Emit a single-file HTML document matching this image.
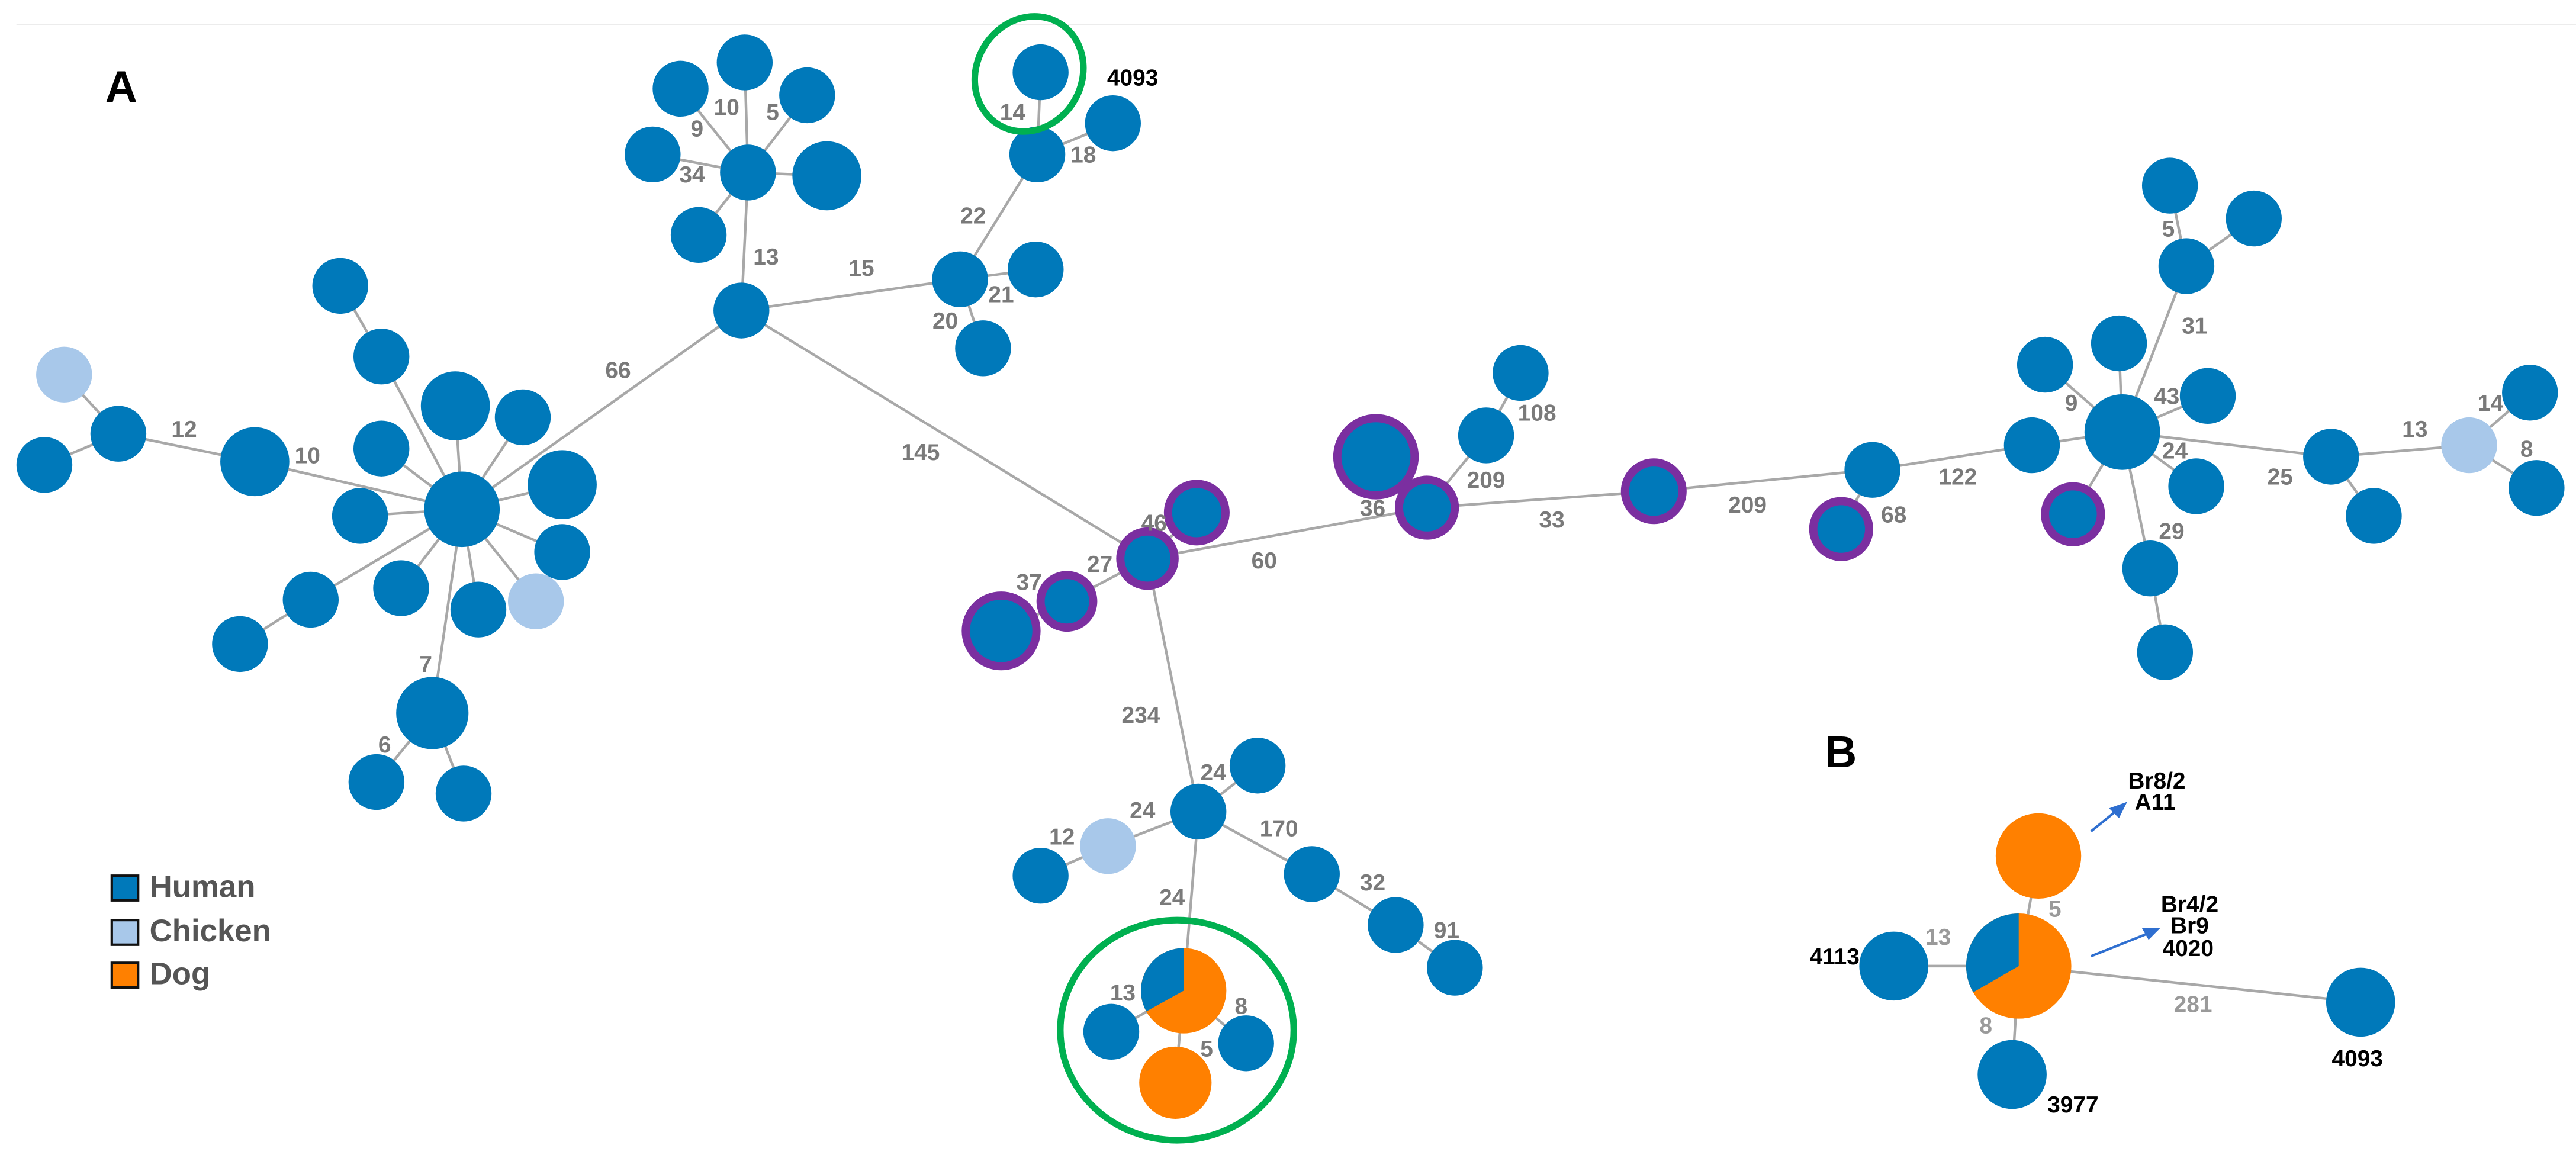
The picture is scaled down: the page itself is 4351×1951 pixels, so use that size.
<!DOCTYPE html>
<html><head><meta charset="utf-8"><style>
html,body{margin:0;padding:0;background:#fff;}
svg{display:block;}
text{font-family:"Liberation Sans",sans-serif;font-weight:bold;}
.l{fill:#7a7a7a;font-size:14px;}
.k{fill:#000;font-size:14px;}
</style></head><body>
<svg width="4351" height="1951" viewBox="0 0 1567 703" preserveAspectRatio="none" xmlns="http://www.w3.org/2000/svg">
<line x1="10" y1="15" x2="1567" y2="15" stroke="#ececec" stroke-width="1"/>
<g stroke="#a8a8a8" stroke-width="1.6" fill="none">
<line x1="455" y1="105" x2="453" y2="38"/><line x1="455" y1="105" x2="414" y2="54"/><line x1="455" y1="105" x2="491" y2="58"/><line x1="455" y1="105" x2="397" y2="94"/><line x1="455" y1="105" x2="503" y2="107"/><line x1="455" y1="105" x2="425" y2="143"/><line x1="455" y1="105" x2="451" y2="189"/>
<line x1="281" y1="310" x2="451" y2="189"/><line x1="281" y1="310" x2="232" y2="217"/><line x1="232" y1="217" x2="207" y2="174"/><line x1="281" y1="310" x2="277" y2="247"/><line x1="281" y1="310" x2="318" y2="254"/><line x1="281" y1="310" x2="232" y2="273"/><line x1="281" y1="310" x2="342" y2="295"/><line x1="281" y1="310" x2="219" y2="314"/><line x1="281" y1="310" x2="342" y2="336"/><line x1="281" y1="310" x2="155" y2="281"/><line x1="155" y1="281" x2="72" y2="264"/><line x1="72" y1="264" x2="39" y2="228"/><line x1="72" y1="264" x2="27" y2="283"/><line x1="281" y1="310" x2="189" y2="365"/><line x1="189" y1="365" x2="146" y2="392"/><line x1="281" y1="310" x2="244" y2="358"/><line x1="281" y1="310" x2="291" y2="371"/><line x1="281" y1="310" x2="326" y2="366"/><line x1="281" y1="310" x2="263" y2="434"/><line x1="263" y1="434" x2="229" y2="476"/><line x1="263" y1="434" x2="282" y2="483"/>
<line x1="451" y1="189" x2="584" y2="170"/><line x1="584" y1="170" x2="631" y2="94"/><line x1="631" y1="94" x2="633" y2="44"/><line x1="631" y1="94" x2="677" y2="75"/><line x1="584" y1="170" x2="630" y2="164"/><line x1="584" y1="170" x2="598" y2="212"/>
<line x1="451" y1="189" x2="698" y2="340"/><line x1="698" y1="340" x2="728" y2="312"/><line x1="698" y1="340" x2="649" y2="366"/><line x1="649" y1="366" x2="609" y2="384"/><line x1="698" y1="340" x2="868" y2="309"/><line x1="868" y1="309" x2="837" y2="278"/><line x1="868" y1="309" x2="904" y2="265"/><line x1="904" y1="265" x2="925" y2="227"/><line x1="868" y1="309" x2="1006" y2="299"/><line x1="1006" y1="299" x2="1139" y2="286"/><line x1="1139" y1="286" x2="1120" y2="322"/><line x1="1139" y1="286" x2="1236" y2="271"/><line x1="1236" y1="271" x2="1291" y2="263"/>
<line x1="1291" y1="263" x2="1289" y2="209"/><line x1="1291" y1="263" x2="1244" y2="222"/><line x1="1291" y1="263" x2="1343" y2="241"/><line x1="1291" y1="263" x2="1336" y2="296"/><line x1="1291" y1="263" x2="1261" y2="313"/><line x1="1291" y1="263" x2="1308" y2="346"/><line x1="1291" y1="263" x2="1418" y2="278"/><line x1="1291" y1="263" x2="1330" y2="162"/><line x1="1330" y1="162" x2="1320" y2="113"/><line x1="1330" y1="162" x2="1371" y2="133"/><line x1="1308" y1="346" x2="1317" y2="397"/><line x1="1418" y1="278" x2="1444" y2="314"/><line x1="1418" y1="278" x2="1502" y2="271"/><line x1="1502" y1="271" x2="1539" y2="239"/><line x1="1502" y1="271" x2="1543" y2="297"/>
<line x1="698" y1="340" x2="729" y2="494"/><line x1="729" y1="494" x2="765" y2="466"/><line x1="729" y1="494" x2="674" y2="515"/><line x1="674" y1="515" x2="633" y2="533"/><line x1="729" y1="494" x2="798" y2="532"/><line x1="798" y1="532" x2="849" y2="563"/><line x1="849" y1="563" x2="885" y2="589"/><line x1="729" y1="494" x2="720" y2="603"/><line x1="720" y1="603" x2="676" y2="628"/><line x1="720" y1="603" x2="758" y2="635"/><line x1="720" y1="603" x2="715" y2="659"/>
<line x1="1228" y1="588" x2="1240" y2="521"/><line x1="1228" y1="588" x2="1152" y2="588"/><line x1="1228" y1="588" x2="1436" y2="610"/><line x1="1228" y1="588" x2="1224" y2="654"/>
</g>
<g fill="#0079BA">
<circle cx="453" cy="38" r="17"/><circle cx="414" cy="54" r="17"/><circle cx="491" cy="58" r="17"/><circle cx="397" cy="94" r="17"/><circle cx="455" cy="105" r="17"/><circle cx="503" cy="107" r="21"/><circle cx="425" cy="143" r="17"/><circle cx="451" cy="189" r="17"/>
<circle cx="72" cy="264" r="17"/><circle cx="27" cy="283" r="17"/><circle cx="155" cy="281" r="21"/><circle cx="207" cy="174" r="17"/><circle cx="232" cy="217" r="17"/><circle cx="277" cy="247" r="21"/><circle cx="318" cy="254" r="17"/><circle cx="232" cy="273" r="17"/><circle cx="281" cy="310" r="23"/><circle cx="342" cy="295" r="21"/><circle cx="219" cy="314" r="17"/><circle cx="342" cy="336" r="17"/><circle cx="189" cy="365" r="17"/><circle cx="244" cy="358" r="17"/><circle cx="291" cy="371" r="17"/><circle cx="146" cy="392" r="17"/><circle cx="263" cy="434" r="22"/><circle cx="229" cy="476" r="17"/><circle cx="282" cy="483" r="17"/>
<circle cx="633" cy="44" r="17"/><circle cx="631" cy="94" r="17"/><circle cx="677" cy="75" r="17"/><circle cx="584" cy="170" r="17"/><circle cx="630" cy="164" r="17"/><circle cx="598" cy="212" r="17"/>
<circle cx="925" cy="227" r="17"/><circle cx="904" cy="265" r="17"/><circle cx="1139" cy="286" r="17"/><circle cx="1236" cy="271" r="17"/><circle cx="1291" cy="263" r="23"/><circle cx="1289" cy="209" r="17"/><circle cx="1244" cy="222" r="17"/><circle cx="1343" cy="241" r="17"/><circle cx="1336" cy="296" r="17"/><circle cx="1308" cy="346" r="17"/><circle cx="1317" cy="397" r="17"/><circle cx="1330" cy="162" r="17"/><circle cx="1320" cy="113" r="17"/><circle cx="1371" cy="133" r="17"/><circle cx="1418" cy="278" r="17"/><circle cx="1444" cy="314" r="17"/><circle cx="1539" cy="239" r="17"/><circle cx="1543" cy="297" r="17"/>
<circle cx="729" cy="494" r="17"/><circle cx="765" cy="466" r="17"/><circle cx="633" cy="533" r="17"/><circle cx="798" cy="532" r="17"/><circle cx="849" cy="563" r="17"/><circle cx="885" cy="589" r="17"/><circle cx="676" cy="628" r="17"/><circle cx="758" cy="635" r="17"/>
<circle cx="1152" cy="588" r="21"/><circle cx="1436" cy="610" r="21"/><circle cx="1224" cy="654" r="21"/>
</g>
<g fill="#A8C8EA"><circle cx="39" cy="228" r="17"/><circle cx="326" cy="366" r="17"/><circle cx="1502" cy="271" r="17"/><circle cx="674" cy="515" r="17"/></g>
<g fill="#0079BA" stroke="#7B2FA0" stroke-width="5">
<circle cx="837" cy="278" r="23.5"/><circle cx="868" cy="309" r="17"/><circle cx="1006" cy="299" r="17.5"/><circle cx="728" cy="312" r="17.5"/><circle cx="698" cy="340" r="16.5"/><circle cx="649" cy="366" r="16"/><circle cx="609" cy="384" r="21.5"/><circle cx="1120" cy="322" r="17"/><circle cx="1261" cy="313" r="17"/>
</g>
<!-- pies -->
<circle cx="720" cy="603" r="26" fill="#FF8000"/>
<path d="M720 603 L720 577 A26 26 0 0 0 697.3 615.6 Z" fill="#0079BA"/>
<circle cx="715" cy="659" r="22" fill="#FF8000"/>
<circle cx="1240" cy="521" r="26" fill="#FF8000"/>
<circle cx="1228" cy="588" r="32" fill="#FF8000"/>
<path d="M1228 588 L1228 556 A32 32 0 0 0 1200.3 604 Z" fill="#0079BA"/>
<!-- green ellipses -->
<ellipse cx="626" cy="45" rx="32" ry="36" transform="rotate(30 626 45)" fill="none" stroke="#00B050" stroke-width="4"/>
<ellipse cx="716" cy="627" rx="71" ry="67" fill="none" stroke="#00B050" stroke-width="4"/>
<!-- arrows -->
<g stroke="#2F6FD0" stroke-width="1.5"><line x1="1272" y1="506" x2="1288" y2="493"/><line x1="1272" y1="582" x2="1307" y2="568"/></g>
<polygon points="1294,488 1283,492 1289,498" fill="#2F6FD0"/>
<polygon points="1314,565 1303,565 1307,572" fill="#2F6FD0"/>
<!-- labels -->
<text x="64" y="62" font-size="27" fill="#000">A</text>
<text x="1110" y="467" font-size="27" fill="#000">B</text>
<g class="l" text-anchor="middle">
<text x="442" y="70">10</text><text x="424" y="83">9</text><text x="470" y="73">5</text><text x="421" y="111">34</text><text x="466" y="161">13</text>
<text x="112" y="266">12</text><text x="187" y="282">10</text><text x="376" y="230">66</text><text x="259" y="409">7</text><text x="234" y="458">6</text>
<text x="524" y="168">15</text><text x="616" y="73">14</text><text x="659" y="99">18</text><text x="592" y="136">22</text><text x="609" y="184">21</text><text x="575" y="200">20</text><text x="560" y="280">145</text>
<text x="935" y="256">108</text><text x="904" y="297">209</text><text x="835" y="314">36</text><text x="944" y="321">33</text><text x="702" y="323">46</text><text x="669" y="348">27</text><text x="626" y="359">37</text><text x="769" y="346">60</text>
<text x="1063" y="312">209</text><text x="1152" y="318">68</text><text x="1191" y="295">122</text><text x="1319" y="144">5</text><text x="1335" y="203">31</text><text x="1260" y="250">9</text><text x="1318" y="246">43</text><text x="1323" y="279">24</text><text x="1321" y="328">29</text><text x="1387" y="295">25</text><text x="1469" y="266">13</text><text x="1515" y="250">14</text><text x="1537" y="278">8</text>
<text x="694" y="440">234</text><text x="738" y="475">24</text><text x="695" y="498">24</text><text x="646" y="514">12</text><text x="778" y="509">170</text><text x="835" y="542">32</text><text x="880" y="571">91</text><text x="713" y="551">24</text><text x="683" y="609">13</text><text x="755" y="617">8</text><text x="734" y="643">5</text>
</g>
<g class="l" text-anchor="middle" style="fill:#9a9a9a">
<text x="1250" y="558">5</text><text x="1179" y="575">13</text><text x="1208" y="629">8</text><text x="1334" y="616">281</text>
</g>
<g class="k" text-anchor="middle">
<text x="689" y="52">4093</text><text x="1312" y="480">Br8/2</text><text x="1311" y="493">A11</text><text x="1332" y="555">Br4/2</text><text x="1332" y="568">Br9</text><text x="1331" y="582">4020</text><text x="1116" y="587">4113</text><text x="1434" y="649">4093</text><text x="1261" y="677">3977</text>
</g>
<!-- legend -->
<g stroke="#111" stroke-width="1.5"><rect x="68" y="533" width="16" height="15" fill="#0079BA"/><rect x="68" y="560" width="16" height="15" fill="#A8C8EA"/><rect x="68" y="586" width="16" height="15" fill="#FF8000"/></g>
<g fill="#555" font-size="19"><text x="91" y="546">Human</text><text x="91" y="573">Chicken</text><text x="91" y="599">Dog</text></g>
</svg>
</body></html>
